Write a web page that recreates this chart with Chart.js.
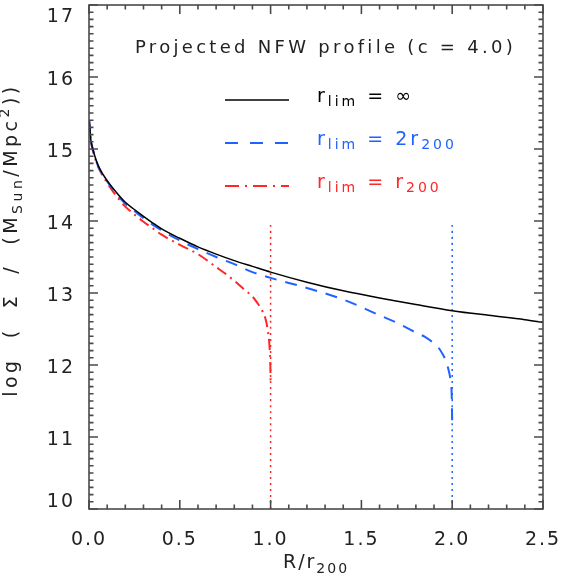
<!DOCTYPE html>
<html><head><meta charset="utf-8">
<script src="https://cdn.jsdelivr.net/npm/chart.js@4.4.0/dist/chart.umd.min.js"></script>
<style>html,body{margin:0;padding:0;background:#fff}canvas{display:block}</style>
</head><body>
<canvas id="c" width="561" height="584"></canvas>
<script>
// ---- data ----
const xTickValues = [0, 0.5, 1.0, 1.5, 2.0, 2.5];
const yTickValues = [10, 11, 12, 13, 14, 15, 16, 17];

const radiusInf = [0.001,0.01,0.02,0.04,0.06,0.1,0.15,0.2,0.25,0.3,0.35,0.4,0.5,0.6,0.7,0.8,0.9,1.0,1.2,1.4,1.6,1.8,2.0,2.2,2.4,2.5];
const sigmaInf  = [15.40,15.13,15.01,14.84,14.72,14.56,14.40,14.26,14.16,14.065,13.975,13.89,13.76,13.64,13.54,13.45,13.37,13.29,13.15,13.03,12.93,12.84,12.755,12.69,12.63,12.59];

const radius2r200 = [0.001,0.01,0.02,0.04,0.06,0.1,0.15,0.2,0.25,0.3,0.35,0.4,0.5,0.6,0.7,0.8,0.9,1.0,1.2,1.4,1.6,1.7,1.8,1.85,1.9,1.925,1.95,1.965,1.98,1.99,1.997,2.0];
const sigma2r200  = [15.40,15.13,15.01,14.83,14.71,14.55,14.38,14.24,14.14,14.04,13.95,13.87,13.73,13.61,13.50,13.40,13.29,13.21,13.07,12.91,12.69,12.58,12.45,12.39,12.30,12.24,12.14,12.06,11.93,11.80,11.60,11.2];

const radiusR200 = [0.001,0.01,0.02,0.04,0.06,0.1,0.15,0.2,0.25,0.3,0.35,0.4,0.5,0.6,0.7,0.75,0.8,0.85,0.9,0.925,0.95,0.97,0.985,0.995,0.999,1.0];
const sigmaR200  = [15.40,15.12,14.99,14.82,14.70,14.53,14.35,14.20,14.09,13.99,13.90,13.81,13.67,13.54,13.36,13.27,13.17,13.06,12.95,12.87,12.77,12.66,12.47,12.22,11.95,11.75];

const limitRadii = [1.0, 2.0];
const limitLineRange = [10, 14];

// ---- styles ----
const BLUE = '#1f62ff', RED = '#ff2626', INK = '#222';
const FONT = '"DejaVu Sans", sans-serif';

const pts = (xs, ys) => xs.map((v, i) => ({x: v, y: ys[i]}));

const datasets = [
  {data: pts(radiusInf, sigmaInf), borderColor: '#000', borderWidth: 1.5},
  {data: pts(radius2r200, sigma2r200), borderColor: BLUE, borderWidth: 2, borderDash: [12, 9]},
  {data: pts(radiusR200, sigmaR200), borderColor: RED, borderWidth: 2, borderDash: [11, 5, 2, 5]},
  {data: pts([limitRadii[0], limitRadii[0]], limitLineRange), borderColor: RED, borderWidth: 1.5, borderDash: [2, 4]},
  {data: pts([limitRadii[1], limitRadii[1]], limitLineRange), borderColor: BLUE, borderWidth: 1.5, borderDash: [2, 4]}
].map(d => Object.assign({pointRadius: 0, fill: false, cubicInterpolationMode: 'monotone'}, d));

function drawRich(ctx, x, y, parts, opts) {
  const main = opts.size, sub = Math.round(opts.size * 0.72);
  ctx.letterSpacing = (opts.ls || 0) + 'px';
  const widthOf = p => { ctx.font = (p[1] ? sub : main) + 'px ' + FONT; return ctx.measureText(p[0]).width; };
  let total = 0; parts.forEach(p => total += widthOf(p));
  let cx = x;
  if (opts.align === 'center') cx = x - total / 2;
  parts.forEach(p => {
    ctx.font = (p[1] ? sub : main) + 'px ' + FONT;
    const dy = p[1] === 1 ? main * 0.25 : (p[1] === 2 ? -main * 0.42 : 0);
    ctx.fillText(p[0], cx, y + dy);
    cx += widthOf(p);
  });
  ctx.letterSpacing = '0px';
}

const frame = {
  id: 'frame',
  beforeDraw(chart) { chart.ctx.letterSpacing = '2px'; },
  afterDraw(chart) {
    const {ctx, chartArea: a, scales: {x, y}} = chart;
    ctx.save();
    ctx.letterSpacing = '0px';
    ctx.strokeStyle = '#4a4a4a'; ctx.lineWidth = 1.6;
    ctx.strokeRect(a.left, a.top, a.right - a.left, a.bottom - a.top);
    ctx.beginPath();
    const xStep = xTickValues[1] - xTickValues[0], xMinor = xStep / 5;
    const nx = Math.round((x.max - x.min) / xMinor);
    for (let i = 0; i <= nx; i++) {
      const px = x.getPixelForValue(x.min + i * xMinor);
      const L = i % 5 === 0 ? 9 : 4.5;
      ctx.moveTo(px, a.bottom); ctx.lineTo(px, a.bottom - L);
      ctx.moveTo(px, a.top); ctx.lineTo(px, a.top + L);
    }
    const yStep = yTickValues[1] - yTickValues[0], yMinor = yStep / 10;
    const ny = Math.round((y.max - y.min) / yMinor);
    for (let i = 0; i <= ny; i++) {
      const py = y.getPixelForValue(y.min + i * yMinor);
      const L = i % 10 === 0 ? 9 : 4.5;
      ctx.moveTo(a.left, py); ctx.lineTo(a.left + L, py);
      ctx.moveTo(a.right, py); ctx.lineTo(a.right - L, py);
    }
    ctx.stroke();

    // title + legend
    ctx.textBaseline = 'alphabetic'; ctx.textAlign = 'left';
    ctx.fillStyle = INK;
    drawRich(ctx, 135, 53, [['Projected NFW profile (c = 4.0)', 0]], {size: 18, ls: 3.3});
    const legend = [
      {c: '#000', dash: [], w: 1.5, y: 100, parts: [['r', 0], ['lim', 1], [' = ∞', 0]]},
      {c: BLUE, dash: [13, 12], w: 2, y: 143, parts: [['r', 0], ['lim', 1], [' = 2r', 0], ['200', 1]]},
      {c: RED, dash: [14, 6, 2, 6], w: 2, y: 186, parts: [['r', 0], ['lim', 1], [' = r', 0], ['200', 1]]}
    ];
    legend.forEach(l => {
      ctx.beginPath(); ctx.setLineDash(l.dash); ctx.strokeStyle = l.c; ctx.lineWidth = l.w;
      ctx.moveTo(225, l.y); ctx.lineTo(289, l.y); ctx.stroke();
      ctx.setLineDash([]);
      ctx.fillStyle = l.c;
      drawRich(ctx, 317, l.y + 1.5, l.parts, {size: 19, ls: 3});
    });

    // axis titles
    ctx.fillStyle = INK;
    drawRich(ctx, (a.left + a.right) / 2, 568, [['R/r', 0], ['200', 1]], {size: 19, ls: 2, align: 'center'});
    ctx.translate(17, 240);
    ctx.rotate(-Math.PI / 2);
    drawRich(ctx, 0, 0, [['log  (  Σ  /  (M', 0], ['Sun', 1], ['/Mpc', 0], ['2', 2], ['))', 0]], {size: 19, ls: 3.5, align: 'center'});
    ctx.restore();
  }
};

const firstY = yTickValues[0], lastY = yTickValues[yTickValues.length - 1];

new Chart(document.getElementById('c'), {
  type: 'line',
  data: {datasets},
  options: {
    responsive: false, animation: false, devicePixelRatio: 1,
    layout: {padding: {top: 5, right: 18, left: 0, bottom: 0}},
    plugins: {legend: {display: false}, tooltip: {enabled: false}, title: {display: false}},
    scales: {
      x: {
        type: 'linear', min: 0, max: 2.5,
        grid: {display: false, drawTicks: false}, border: {display: false},
        afterBuildTicks: s => { s.ticks = xTickValues.map(v => ({value: v})); },
        afterFit: s => { s.height = 75; s.paddingLeft = 0; s.paddingRight = 0; },
        ticks: {padding: 20, color: INK, font: {family: FONT, size: 19}, maxRotation: 0, callback: v => Number(v).toFixed(1)}
      },
      y: {
        type: 'linear', min: 10, max: 17,
        grid: {display: false, drawTicks: false}, border: {display: false},
        afterBuildTicks: s => { s.ticks = yTickValues.map(v => ({value: v})); },
        afterFit: s => { s.width = 89; s.paddingTop = 0; s.paddingBottom = 0; },
        ticks: {padding: 14, labelOffset: 3, color: INK, font: {family: FONT, size: 19, lineHeight: 1.0},
          callback: v => v === lastY ? ['', String(v)] : (v === firstY ? [String(v), ''] : String(v))}
      }
    }
  },
  plugins: [frame]
});
</script>
</body></html>
